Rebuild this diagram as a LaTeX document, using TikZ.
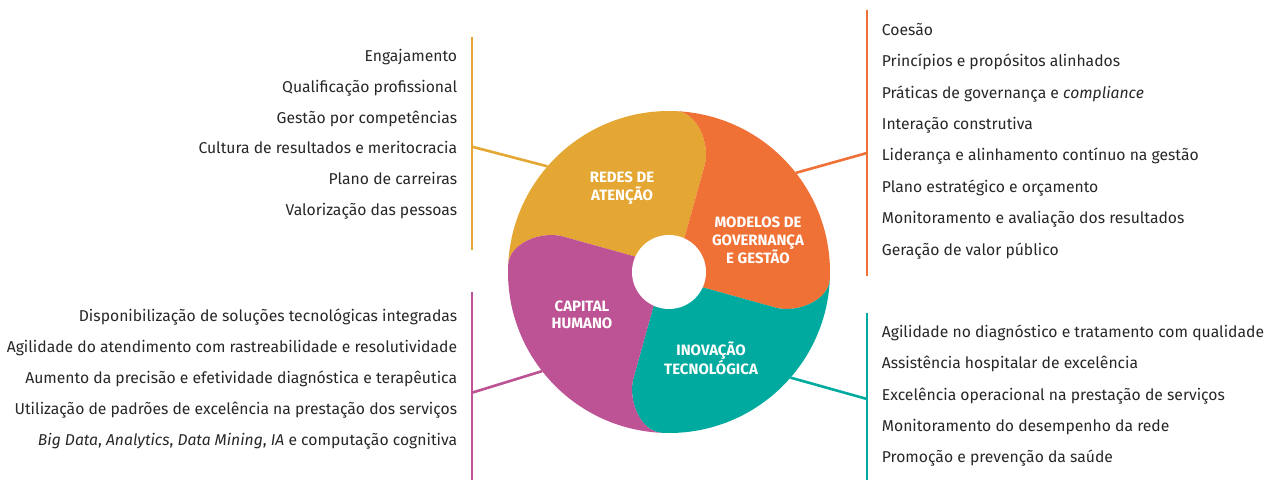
\documentclass[tikz,border=0pt]{standalone}
\usepackage{fontspec}
\setmainfont{Fira Sans}
\usepackage{tikz}
\definecolor{redesyel}{HTML}{E5A733}
\definecolor{modorange}{HTML}{F07136}
\definecolor{capmag}{HTML}{BD5395}
\definecolor{inovteal}{HTML}{00AA9E}
\definecolor{itemgray}{HTML}{272727}
% one petal of the wheel: colour, own edge angle, next edge angle
\newcommand{\petal}[3]{%
  \fill[#1] (0,0) -- ({#2-22}:37) -- ({#2-16}:112)
    .. controls +({#2-13}:22) and +({#2-90}:22) .. (#2:161)
    arc[start angle=#2, end angle=#3, radius=161]
    .. controls +({#3-90}:22) and +({#3-13}:22) .. ({#3-16}:112)
    -- ({#3-22}:37) -- cycle;}
\begin{document}
\begin{tikzpicture}[x=1pt,y=1pt,
  itemL/.style={anchor=base east, inner sep=0pt, text=itemgray, font=\fontsize{15.7}{18}\selectfont},
  itemR/.style={anchor=base west, inner sep=0pt, text=itemgray, font=\fontsize{15.7}{18}\selectfont},
  bar/.style={line width=2.6pt},
  lbl/.style={text=white, align=center, font=\fontsize{15}{17.5}\selectfont\bfseries}]
\useasboundingbox (0,0) rectangle (1266,480);
\node[circle, minimum size=322pt, inner sep=0pt, outer sep=0pt] (wheel) at (669,208) {};
% bars
\coordinate (ytop) at (472,443);
\coordinate (ybot) at (472,230);
\coordinate (yjoin) at (472,333.3);
\coordinate (otop) at (867,470);
\coordinate (obot) at (867,204);
\coordinate (ojoin) at (867,327);
\coordinate (mtop) at (472,188.3);
\coordinate (mbot) at (472,0);
\coordinate (mjoin) at (472,87.3);
\coordinate (ttop) at (867,167.3);
\coordinate (tbot) at (867,0);
\coordinate (tjoin) at (867,81);
\draw[bar, redesyel] (ytop) -- (ybot);
\draw[bar, modorange] (otop) -- (obot);
\draw[bar, capmag] (mtop) -- (mbot);
\draw[bar, inovteal] (ttop) -- (tbot);
\draw[bar, redesyel] (yjoin) -- (wheel.139);
\draw[bar, modorange] (ojoin) -- (wheel.38.2);
\draw[bar, capmag] (mjoin) -- (wheel.218.4);
\draw[bar, inovteal] (tjoin) -- (wheel.319.5);
% wheel
\begin{scope}[shift={(669,208)}]
\petal{redesyel}{87.5}{177.5}
\petal{modorange}{-2.5}{87.5}
\petal{inovteal}{-92.5}{-2.5}
\petal{capmag}{177.5}{267.5}
\end{scope}
\node[circle, fill=white, minimum size=74pt, inner sep=0pt] (hole) at (669,208) {};
\node[lbl] (redes) at (622,291.7) {REDES DE\\ATENÇÃO};
\node[lbl] (modelos) at (758,239.3) {MODELOS DE\\GOVERNANÇA\\E GESTÃO};
\node[lbl] (capital) at (582,165) {CAPITAL\\HUMANO};
\node[lbl] (inovacao) at (711,122) {INOVAÇÃO\\TECNOLÓGICA};
% top left list
\node[itemL] (yel1) at (457.3,418.3) {Engajamento};
\node[itemL] (yel2) at (457.3,387.6) {Qualificação profissional};
\node[itemL] (yel3) at (457.3,356.9) {Gestão por competências};
\node[itemL] (yel4) at (457.3,326.2) {Cultura de resultados e meritocracia};
\node[itemL] (yel5) at (457.3,295.5) {Plano de carreiras};
\node[itemL] (yel6) at (457.3,264.8) {Valorização das pessoas};
% top right list
\node[itemR] (org1) at (881.7,444.3) {Coesão};
\node[itemR] (org2) at (881.7,413.0) {Princípios e propósitos alinhados};
\node[itemR] (org3) at (881.7,381.6) {Práticas de governança e \textit{compliance}};
\node[itemR] (org4) at (881.7,350.3) {Interação construtiva};
\node[itemR] (org5) at (881.7,319.0) {Liderança e alinhamento contínuo na gestão};
\node[itemR] (org6) at (881.7,287.6) {Plano estratégico e orçamento};
\node[itemR] (org7) at (881.7,256.3) {Monitoramento e avaliação dos resultados};
\node[itemR] (org8) at (881.7,225.0) {Geração de valor público};
% bottom left list
\node[itemL] (mag1) at (457.3,159) {Disponibilização de soluções tecnológicas integradas};
\node[itemL] (mag2) at (457.3,128) {Agilidade do atendimento com rastreabilidade e resolutividade};
\node[itemL] (mag3) at (457.3,97) {Aumento da precisão e efetividade diagnóstica e terapêutica};
\node[itemL] (mag4) at (457.3,66) {Utilização de padrões de excelência na prestação dos serviços};
\node[itemL] (mag5) at (457.3,35) {\textit{Big Data}, \textit{Analytics}, \textit{Data Mining}, \textit{IA} e computação cognitiva};
% bottom right list
\node[itemR] (tea1) at (881.7,142.3) {Agilidade no diagnóstico e tratamento com qualidade};
\node[itemR] (tea2) at (881.7,111.2) {Assistência hospitalar de excelência};
\node[itemR] (tea3) at (881.7,80) {Excelência operacional na prestação de serviços};
\node[itemR] (tea4) at (881.7,48.9) {Monitoramento do desempenho da rede};
\node[itemR] (tea5) at (881.7,17.7) {Promoção e prevenção da saúde};
\end{tikzpicture}
\end{document}
